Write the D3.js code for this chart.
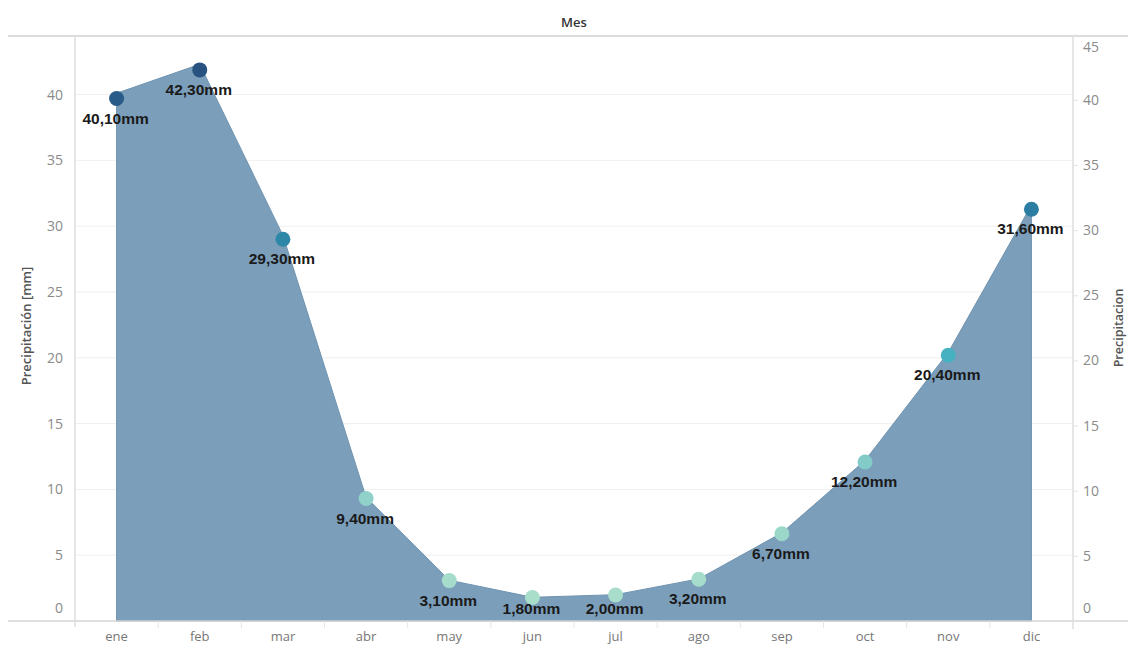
<!DOCTYPE html>
<html>
<head>
<meta charset="utf-8">
<script src="https://cdn.jsdelivr.net/npm/d3@7"></script>
<style>
  body { margin: 0; background: #fff; }
  svg { display: block; }
</style>
</head>
<body>
<svg width="1128" height="645"></svg>
<script>
// precipitation per month (mm)
var months = ["ene", "feb", "mar", "abr", "may", "jun", "jul", "ago", "sep", "oct", "nov", "dic"];
var rain = [40.1, 42.3, 29.3, 9.4, 3.1, 1.8, 2.0, 3.2, 6.7, 12.2, 20.4, 31.6];
var leftTicks = [0, 5, 10, 15, 20, 25, 30, 35, 40];
var rightTicks = [0, 5, 10, 15, 20, 25, 30, 35, 40, 45];

var svg = d3.select("svg");
var plot = { left: 75, right: 1073, top: 36, bottom: 621 };

var x = d3.scaleBand().domain(months).range([plot.left, plot.right]);
var yL = d3.scaleLinear().domain([0, 44.45]).range([plot.bottom, plot.top]);
var yR = d3.scaleLinear().domain([0, 44.9]).range([plot.bottom, plot.top]);

var color = d3.scaleLinear()
    .domain([0, 8, 13, 21, 31, 42])
    .range(["#aee0cc", "#97d5c9", "#7ec9c8", "#44afc0", "#2b7fa3", "#285482"]);

function cx(d, i) { return x(months[i]) + x.bandwidth() / 2; }

// gridlines (left axis)
svg.append("g").selectAll("line")
    .data(leftTicks.filter(function (t) { return t > 0; }))
    .join("line")
    .attr("x1", plot.left).attr("x2", plot.right)
    .attr("y1", function (d) { return yL(d); })
    .attr("y2", function (d) { return yL(d); })
    .attr("stroke", "#efefef").attr("stroke-width", 1);

// area
var area = d3.area()
    .x(cx)
    .y0(yL(0))
    .y1(function (d) { return yL(d); });

svg.append("path")
    .datum(rain)
    .attr("d", area)
    .attr("fill", "#7b9eba")
    .attr("stroke", "#6f93b0")
    .attr("stroke-width", 1);

// frame lines
svg.append("line").attr("x1", 8).attr("x2", 1128).attr("y1", plot.top).attr("y2", plot.top)
    .attr("stroke", "#dcdcdc").attr("stroke-width", 2);
svg.append("line").attr("x1", 8).attr("x2", 1128).attr("y1", plot.bottom).attr("y2", plot.bottom)
    .attr("stroke", "#d4d4d4").attr("stroke-width", 1.5);
svg.append("line").attr("x1", plot.left).attr("x2", plot.left).attr("y1", plot.top).attr("y2", plot.bottom + 6)
    .attr("stroke", "#dedede").attr("stroke-width", 1.5);
svg.append("line").attr("x1", plot.right).attr("x2", plot.right).attr("y1", plot.top).attr("y2", plot.bottom + 8)
    .attr("stroke", "#dedede").attr("stroke-width", 1.5);

// left axis
var leftAxis = svg.append("g")
    .attr("transform", "translate(" + plot.left + ",0)")
    .call(d3.axisLeft(yL).tickValues(leftTicks).tickSize(0).tickPadding(12));
leftAxis.select(".domain").remove();
leftAxis.selectAll("text")
    .attr("font-family", "Open Sans, sans-serif").attr("font-size", 14).attr("fill", "#8a8a8a")
    .attr("dy", function (d) { return d === 0 ? "-0.6em" : "0.32em"; });

// right axis
var rightAxis = svg.append("g")
    .attr("transform", "translate(" + plot.right + ",0)")
    .call(d3.axisRight(yR).tickValues(rightTicks).tickSize(5).tickPadding(5));
rightAxis.select(".domain").remove();
rightAxis.selectAll("line").attr("stroke", "#e4e4e4");
rightAxis.selectAll("text")
    .attr("font-family", "Open Sans, sans-serif").attr("font-size", 14).attr("fill", "#8a8a8a")
    .attr("dy", function (d) { return d === 0 ? "-0.6em" : (d === 45 ? "1.2em" : "0.32em"); });

// bottom axis
var xAxis = svg.append("g")
    .attr("transform", "translate(0," + plot.bottom + ")")
    .call(d3.axisBottom(x).tickSize(0).tickPadding(11));
xAxis.select(".domain").remove();
xAxis.selectAll("text")
    .attr("font-family", "Open Sans, sans-serif").attr("font-size", 13).attr("fill", "#777");
svg.append("g").selectAll("line")
    .data(months.slice(1))
    .join("line")
    .attr("x1", function (d) { return x(d); }).attr("x2", function (d) { return x(d); })
    .attr("y1", plot.bottom).attr("y2", plot.bottom + 7)
    .attr("stroke", "#e6e6e6");

// titles
svg.append("text").attr("x", (plot.left + plot.right) / 2).attr("y", 27)
    .attr("text-anchor", "middle").attr("font-family", "Open Sans, sans-serif")
    .attr("font-size", 13).attr("font-weight", 600).attr("fill", "#333").text("Mes");
svg.append("text").attr("transform", "translate(31,326) rotate(-90)")
    .attr("text-anchor", "middle").attr("font-family", "Open Sans, sans-serif")
    .attr("font-size", 13).attr("font-weight", 600).attr("fill", "#555").text("Precipitación [mm]");
svg.append("text").attr("transform", "translate(1123,328) rotate(-90)")
    .attr("text-anchor", "middle").attr("font-family", "Open Sans, sans-serif")
    .attr("font-size", 12.5).attr("font-weight", 600).attr("fill", "#555").text("Precipitacion");

// points
svg.append("g").selectAll("circle")
    .data(rain)
    .join("circle")
    .attr("cx", cx)
    .attr("cy", function (d) { return yR(d); })
    .attr("r", 7.5)
    .attr("fill", function (d) { return color(d); });

// labels (kept inside the plot near the bottom edge)
var fmt = function (d) { return d.toFixed(2).replace(".", ",") + "mm"; };
svg.append("g").selectAll("text")
    .data(rain)
    .join("text")
    .attr("x", function (d, i) { return cx(d, i) - 1; })
    .attr("y", function (d) { return Math.min(yR(d) + 25, plot.bottom - 7); })
    .attr("text-anchor", "middle")
    .attr("font-family", "Liberation Sans, Arial, sans-serif")
    .attr("font-size", 15.5).attr("font-weight", "bold").attr("fill", "#1a1a1a")
    .text(fmt);
</script>
</body>
</html>
